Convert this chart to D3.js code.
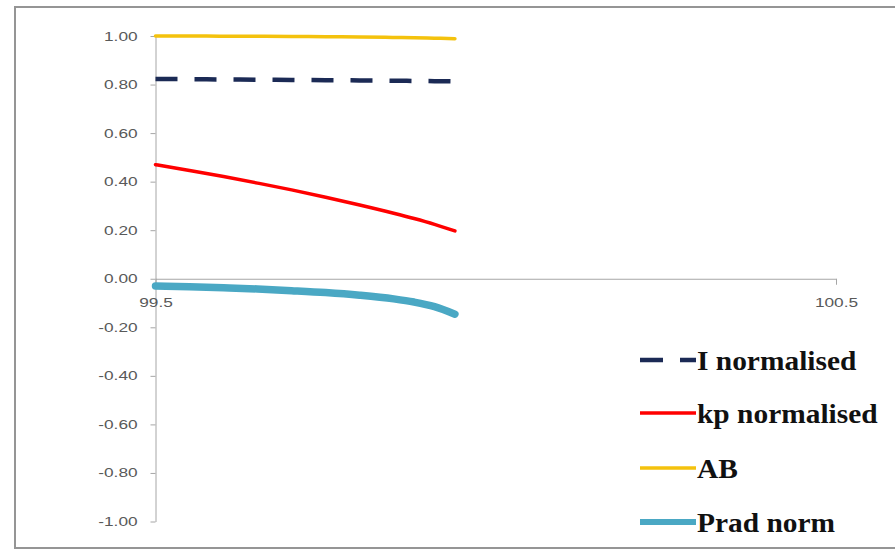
<!DOCTYPE html>
<html>
<head>
<meta charset="utf-8">
<script src="https://cdn.jsdelivr.net/npm/d3@7/dist/d3.min.js"></script>
<style>
  html, body { margin: 0; padding: 0; background: #ffffff; }
  svg { display: block; }
</style>
</head>
<body>
<svg id="chart" width="895" height="550"></svg>
<script>
// ---- data ----
const xValues   = [99.50, 99.55, 99.60, 99.65, 99.70, 99.75, 99.80, 99.85, 99.88, 99.91, 99.94];
const iNorm     = [0.823, 0.822, 0.821, 0.820, 0.819, 0.818, 0.817, 0.816, 0.815, 0.814, 0.813];
const kpNorm    = [0.470, 0.446, 0.421, 0.394, 0.366, 0.336, 0.304, 0.270, 0.248, 0.224, 0.197];
const ab        = [1.000, 1.000, 0.999, 0.999, 0.998, 0.997, 0.996, 0.994, 0.993, 0.991, 0.989];
const pradNorm  = [-0.030, -0.033, -0.037, -0.042, -0.049, -0.057, -0.068, -0.083, -0.096, -0.115, -0.146];
const seriesNames = ["I normalised", "kp normalised", "AB", "Prad norm"];
const yTickValues = [1.0, 0.8, 0.6, 0.4, 0.2, 0.0, -0.2, -0.4, -0.6, -0.8, -1.0];
const yTickLabels = ["1.00", "0.80", "0.60", "0.40", "0.20", "0.00", "-0.20", "-0.40", "-0.60", "-0.80", "-1.00"];
const xTickValues = [99.5, 100.5];
const xTickLabels = ["99.5", "100.5"];

// ---- styles ----
const styles = [
  { color: "#1b2a55", width: 4.5, dash: "22,17", cap: "butt" },
  { color: "#ff0000", width: 3.5, dash: null, cap: "round" },
  { color: "#f4c20d", width: 3.5, dash: null, cap: "round" },
  { color: "#4aa8c4", width: 7.5, dash: null, cap: "round" }
];
const seriesData = [iNorm, kpNorm, ab, pradNorm];

const svg = d3.select("#chart");

// outer frame
svg.append("rect")
  .attr("x", 15).attr("y", 7)
  .attr("width", 900).attr("height", 541)
  .attr("fill", "#ffffff")
  .attr("stroke", "#959595")
  .attr("stroke-width", 2);

const x = d3.scaleLinear().domain([99.5, 100.5]).range([155.5, 836]);
const y = d3.scaleLinear().domain([-1, 1]).range([521.5, 36]);

const axisColor = "#a6a6a6";
const labelColor = "#595959";

// y axis
const yAxis = svg.append("g")
  .attr("transform", `translate(${x(99.5)},0)`)
  .call(d3.axisLeft(y).tickValues(yTickValues)
        .tickFormat((d, i) => yTickLabels[i]).tickSize(5).tickSizeOuter(0));
yAxis.select(".domain").attr("stroke", axisColor);
yAxis.selectAll(".tick line").attr("stroke", axisColor);
yAxis.selectAll(".tick text")
  .attr("x", -13)
  .attr("transform", "scale(1.38,1)")
  .attr("fill", labelColor)
  .style("font-family", "'Liberation Sans', Arial, sans-serif")
  .style("font-size", "12.5px");

// x axis at y=0
const xAxis = svg.append("g")
  .attr("transform", `translate(0,${y(0)})`)
  .call(d3.axisBottom(x).tickValues(xTickValues)
        .tickFormat((d, i) => xTickLabels[i]).tickSize(6).tickSizeOuter(0).tickPadding(13));
xAxis.select(".domain").attr("stroke", axisColor);
xAxis.selectAll(".tick line").attr("stroke", axisColor);
xAxis.selectAll(".tick text")
  .attr("transform", "scale(1.38,1)")
  .attr("fill", labelColor)
  .style("font-family", "'Liberation Sans', Arial, sans-serif")
  .style("font-size", "12.5px");

// lines
const line = d3.line()
  .x((d, i) => x(xValues[i]))
  .y(d => y(d))
  .curve(d3.curveMonotoneX);

const drawOrder = [2, 0, 1, 3];
drawOrder.forEach(k => {
  const s = styles[k];
  const p = svg.append("path")
    .datum(seriesData[k])
    .attr("d", line)
    .attr("fill", "none")
    .attr("stroke", s.color)
    .attr("stroke-width", s.width)
    .attr("stroke-linecap", s.cap)
    .attr("stroke-linejoin", "round");
  if (s.dash) p.attr("stroke-dasharray", s.dash);
});

// legend
const legendRows = [360, 413, 468, 522];
const legend = svg.append("g");
seriesNames.forEach((name, k) => {
  const s = styles[k];
  const ly = legendRows[k];
  const l = legend.append("line")
    .attr("x1", 640).attr("x2", 696)
    .attr("y1", ly).attr("y2", ly)
    .attr("stroke", s.color)
    .attr("stroke-width", k === 3 ? 6 : (k === 0 ? 4.5 : 3.5))
    .attr("stroke-linecap", "butt");
  if (s.dash) l.attr("stroke-dasharray", "23,17");
  legend.append("text")
    .attr("transform", `translate(697,${ly}) scale(1.07,1)`)
    .attr("dy", "0.35em")
    .attr("fill", "#111111")
    .style("font-family", "'Liberation Serif', 'Times New Roman', serif")
    .style("font-weight", "bold")
    .style("font-size", "27.5px")
    .text(name);
});
</script>
</body>
</html>
